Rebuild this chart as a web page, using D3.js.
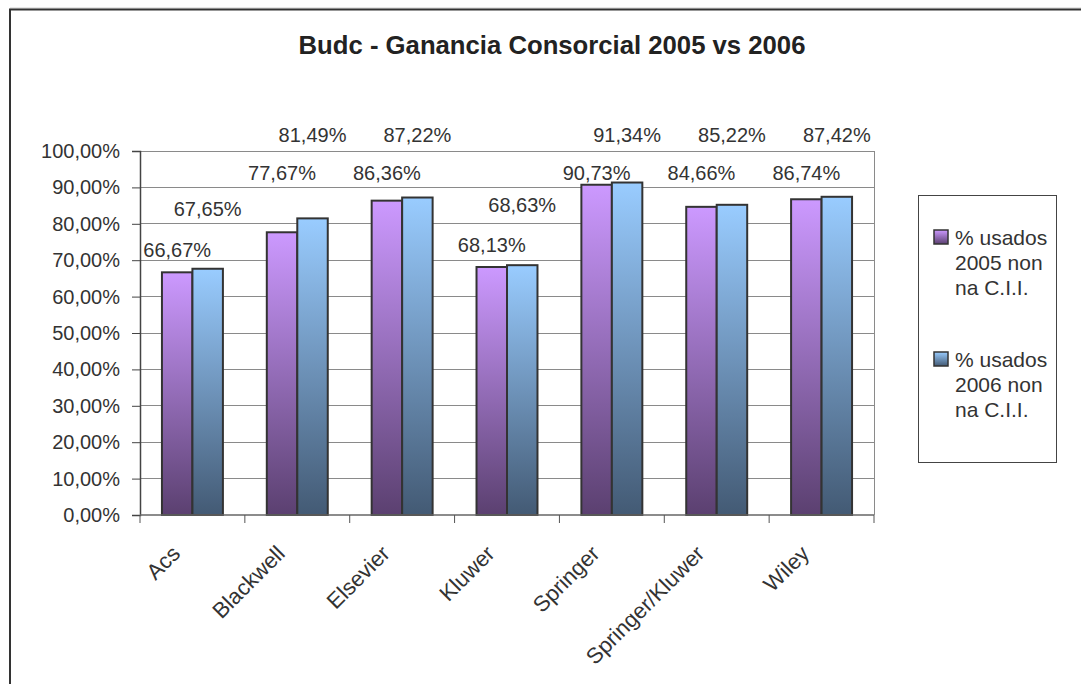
<!DOCTYPE html>
<html><head><meta charset="utf-8">
<script src="https://cdn.jsdelivr.net/npm/d3@7"></script>
<style>
html,body{margin:0;padding:0;background:#fff;}
svg{display:block;font-family:"Liberation Sans",Arial,sans-serif;}
</style></head>
<body>
<svg id="chart" width="1081" height="684"></svg>
<script>
const title = "Budc - Ganancia Consorcial 2005 vs 2006";
const categories = ["Acs","Blackwell","Elsevier","Kluwer","Springer","Springer/Kluwer","Wiley"];
const seriesNames = ["% usados 2005 non na C.I.I.","% usados 2006 non na C.I.I."];
const legendLines = [["% usados","2005 non","na C.I.I."],["% usados","2006 non","na C.I.I."]];
const values2005 = [0.6667,0.7767,0.8636,0.6813,0.9073,0.8466,0.8674];
const values2006 = [0.6765,0.8149,0.8722,0.6863,0.9134,0.8522,0.8742];
const yTicks = [0,0.1,0.2,0.3,0.4,0.5,0.6,0.7,0.8,0.9,1.0];

const svg = d3.select("#chart");
const defs = svg.append("defs");
const grads = [
  {id:"g2005", top:"#cc99ff", bottom:"#5b4070"},
  {id:"g2006", top:"#99ccff", bottom:"#435a74"}
];
grads.forEach(g=>{
  const lg = defs.append("linearGradient").attr("id",g.id).attr("x1",0).attr("y1",0).attr("x2",0).attr("y2",1);
  lg.append("stop").attr("offset","0%").attr("stop-color",g.top);
  lg.append("stop").attr("offset","100%").attr("stop-color",g.bottom);
});

// outer frame
svg.append("line").attr("x1",10).attr("x2",1081).attr("y1",8).attr("y2",8).attr("stroke","#cfcfcf").attr("stroke-width",1);
svg.append("path").attr("d","M10,690 L10,9.5 L1090,9.5").attr("fill","none").attr("stroke","#333").attr("stroke-width",2);

// title
svg.append("text").attr("x",552).attr("y",54).attr("text-anchor","middle")
  .attr("font-size",25.7).attr("font-weight","bold").attr("fill","#222").text(title);

const L=140, R=874, T=151, B=515;
const x = d3.scaleBand().domain(categories).range([L,R]).padding(0);
const xs = d3.scaleBand().domain([0,1]).range([0,x.bandwidth()]).paddingInner(0).paddingOuter(0.72);
const y = d3.scaleLinear().domain([0,1]).range([B,T]);

// gridlines
svg.append("g").selectAll("line").data(yTicks.filter(d=>d>0)).join("line")
  .attr("x1",L).attr("x2",R).attr("y1",d=>y(d)).attr("y2",d=>y(d))
  .attr("stroke","#8a8a8a").attr("stroke-width",1).attr("shape-rendering","crispEdges");
svg.append("line").attr("x1",R).attr("x2",R).attr("y1",T).attr("y2",B)
  .attr("stroke","#8a8a8a").attr("stroke-width",1).attr("shape-rendering","crispEdges");

// bars
const seriesVals = [values2005, values2006];
seriesVals.forEach((vals,si)=>{
  svg.append("g").selectAll("rect").data(categories).join("rect")
    .attr("x",(c)=>x(c)+xs(si))
    .attr("y",(c,i)=>y(vals[i]))
    .attr("width",xs.bandwidth())
    .attr("height",(c,i)=>B-y(vals[i]))
    .attr("fill",`url(#${grads[si].id})`)
    .attr("stroke","#333").attr("stroke-width",2);
});

// axes
const fmt = d=>(d*100).toFixed(2).replace(".",",")+"%";
const yAxis = svg.append("g").attr("transform",`translate(${L},0)`)
  .call(d3.axisLeft(y).tickValues(yTicks).tickFormat(fmt).tickSize(8).tickPadding(12));
yAxis.select(".domain").attr("stroke","#444").attr("stroke-width",1.5);
yAxis.selectAll(".tick line").attr("stroke","#444");
yAxis.selectAll("text").attr("font-size",20).attr("fill","#333").attr("font-family","Liberation Sans, Arial, sans-serif");

// x axis line and boundary ticks
svg.append("line").attr("x1",L).attr("x2",R).attr("y1",B).attr("y2",B).attr("stroke","#666").attr("stroke-width",1.5);
const bounds = categories.map(c=>x(c)).concat([R]);
svg.append("g").selectAll("line").data(bounds).join("line")
  .attr("x1",d=>d).attr("x2",d=>d).attr("y1",B).attr("y2",B+8)
  .attr("stroke","#555").attr("stroke-width",1);

// x labels
svg.append("g").selectAll("text").data(categories).join("text")
  .attr("transform",c=>`translate(${x(c)+x.bandwidth()/2-11},${B+40}) rotate(-45)`)
  .attr("text-anchor","end").attr("font-size",22).attr("fill","#333").text(c=>c);

// data labels (low bars: just above the bar; taller bars: lifted to a common row)
const lab = svg.append("g").attr("font-size",20).attr("fill","#333").attr("text-anchor","middle");
lab.selectAll("text.s0").data(categories).join("text").attr("class","s0")
  .attr("x",c=>x(c)+xs(0)+xs.bandwidth()/2)
  .attr("y",(c,i)=>values2005[i]<0.75 ? y(values2005[i])-15 : 180)
  .text((c,i)=>fmt(values2005[i]));
lab.selectAll("text.s1").data(categories).join("text").attr("class","s1")
  .attr("x",c=>x(c)+xs(1)+xs.bandwidth()/2)
  .attr("y",(c,i)=>values2006[i]<0.75 ? y(values2006[i])-53 : 142)
  .text((c,i)=>fmt(values2006[i]));

// legend
svg.append("rect").attr("x",918.5).attr("y",195.5).attr("width",138).attr("height",267)
  .attr("fill","#fff").attr("stroke","#444").attr("stroke-width",1);
legendLines.forEach((lines,i)=>{
  const base = 245 + i*122;
  svg.append("rect").attr("x",934).attr("y",base-15).attr("width",14).attr("height",14)
    .attr("fill",`url(#${grads[i].id})`).attr("stroke","#333").attr("stroke-width",1.5);
  const t = svg.append("text").attr("font-size",21).attr("fill","#333");
  lines.forEach((ln,j)=>{
    t.append("tspan").attr("x",955).attr("y",base+j*25).text(ln);
  });
});
</script>
</body></html>
